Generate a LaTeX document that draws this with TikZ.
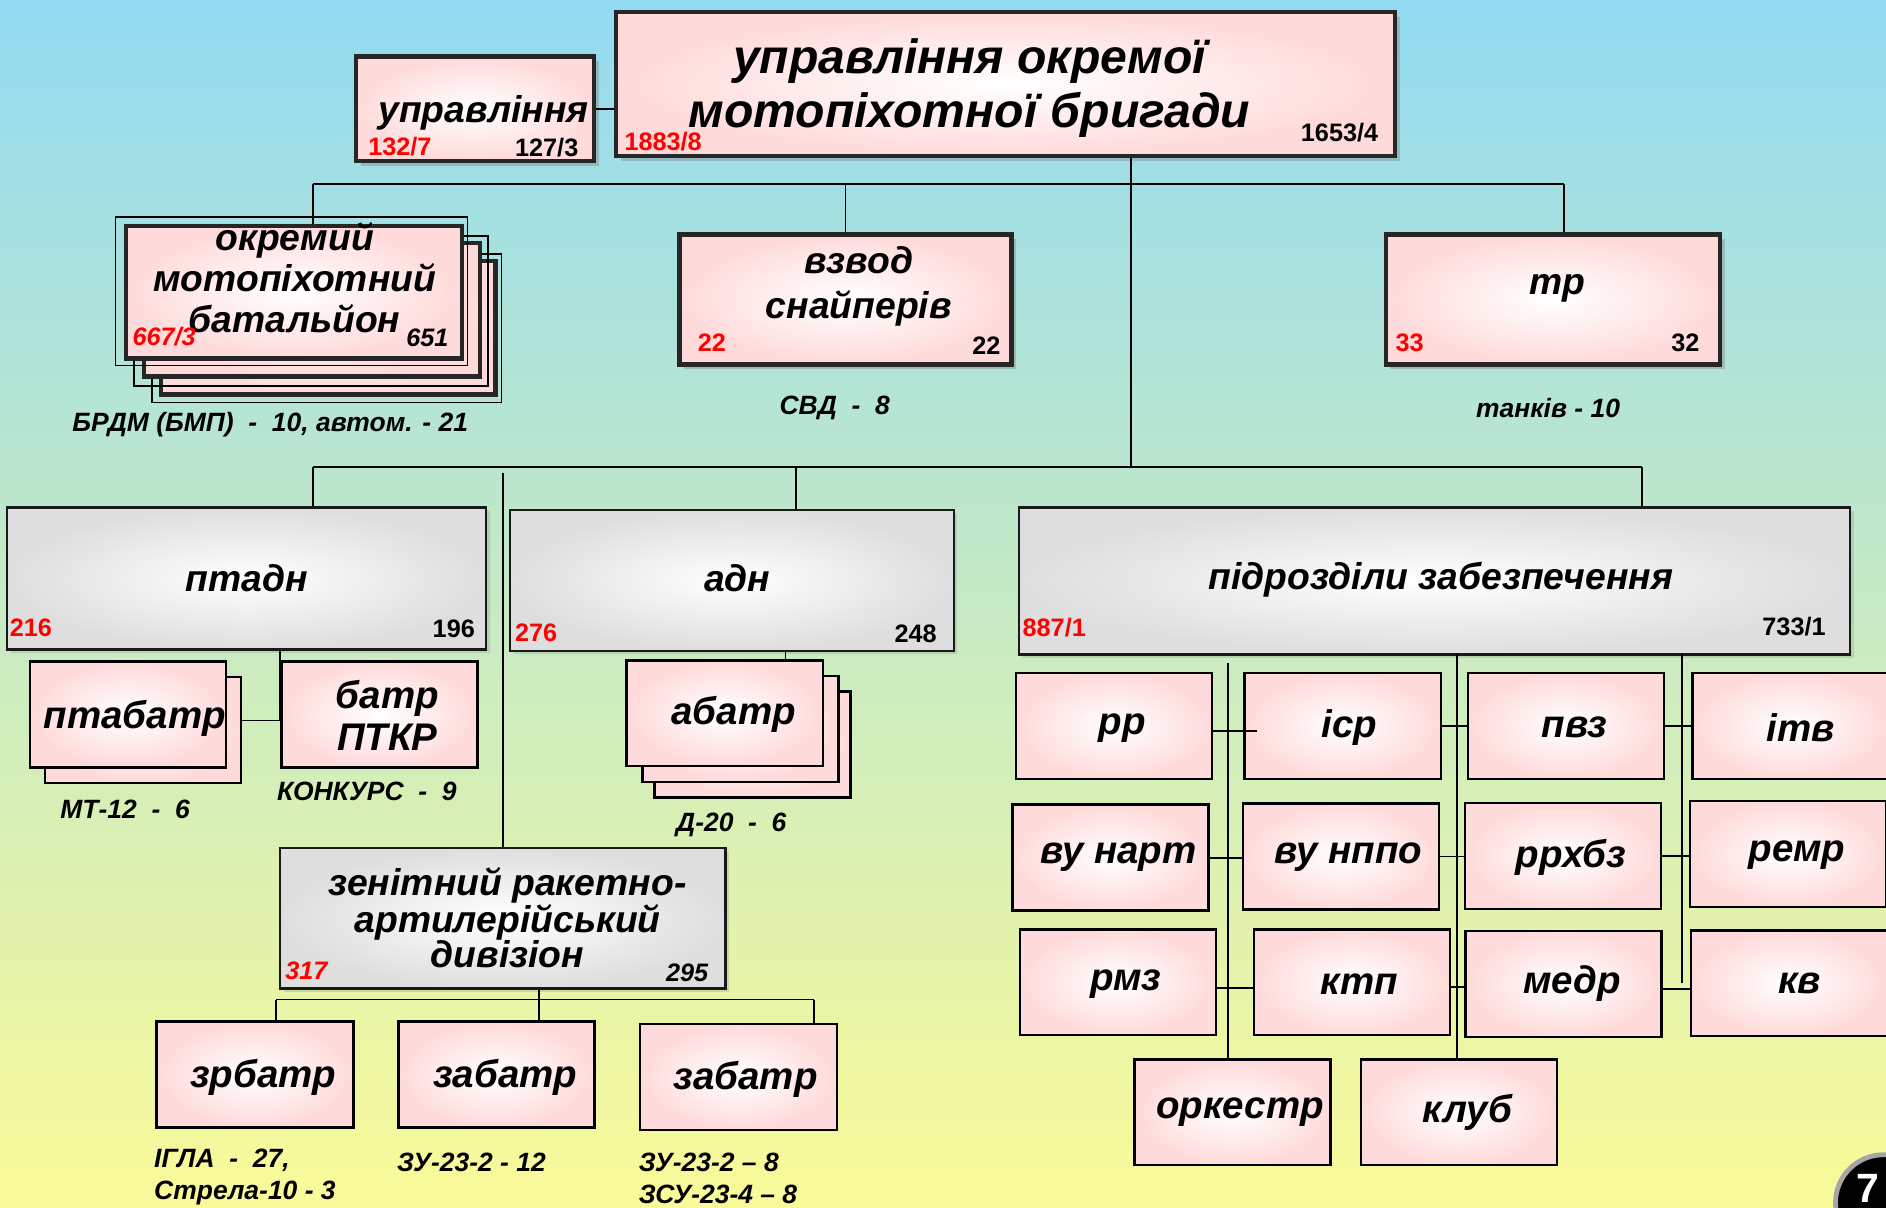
\documentclass[tikz,border=0pt]{standalone}
\usepackage{fontspec}
\setmainfont{Liberation Sans}
\usetikzlibrary{shadows,calc}
\definecolor{bgtop}{RGB}{146,218,242}
\definecolor{bgbot}{RGB}{250,250,152}
\definecolor{pinkE}{RGB}{255,218,218}
\definecolor{grayE}{RGB}{222,222,222}
\begin{document}
\begin{tikzpicture}[x=1pt,y=-1pt,
  bigbox/.style={draw=black!85,line width=3.5pt,shading=radial,inner color=white,outer color=pinkE,inner sep=0pt,
     drop shadow={opacity=0.4,shadow xshift=4pt,shadow yshift=-4pt}},
  stackbox/.style={draw=black!85,line width=3.5pt,shading=radial,inner color=white,outer color=pinkE,inner sep=0pt},
  graybox/.style={draw=black!90,line width=2pt,shading=radial,inner color=white,outer color=grayE,inner sep=0pt,
     drop shadow={opacity=0.25,shadow xshift=3pt,shadow yshift=-3pt}},
  pbox/.style={draw=black,line width=2pt,shading=radial,inner color=white,outer color=pinkE,inner sep=0pt,
     minimum width=163pt,minimum height=88pt},
  conn/.style={draw=black,line width=1.5pt},
  thinl/.style={draw=black,line width=1.2pt},
  ttl/.style={font=\fontsize{40}{45}\selectfont\bfseries\itshape,align=center,inner sep=0pt},
  tbig/.style={font=\fontsize{31}{35}\selectfont\bfseries\itshape,align=center,inner sep=0pt},
  tsm/.style={font=\fontsize{32}{35}\selectfont\bfseries\itshape,align=center,inner sep=0pt},
  nr/.style={font=\fontsize{21}{21}\selectfont\bfseries,text=red,inner sep=0pt},
  nb/.style={font=\fontsize{21}{21}\selectfont\bfseries,text=black,inner sep=0pt},
  nit/.style={font=\fontsize{21}{21}\selectfont\bfseries\itshape},
  lbl/.style={font=\fontsize{22}{27}\selectfont\bfseries\itshape,inner sep=0pt,align=left}]

\useasboundingbox (0,0) rectangle (1568,1004);
\clip (0,0) rectangle (1568,1004);
\shade[top color=bgtop,bottom color=bgbot] (0,0) rectangle (1568,1004);

% ---------- top level ----------
\node[bigbox,minimum width=648pt,minimum height=120pt] (brig) at (836,70) {};
\node[ttl] (brig-t) at (806,73) {управління окремої\\мотопіхотної бригади};
\node[nr,anchor=west] (brig-r) at (519,118) {1883/8};
\node[nb,anchor=east] (brig-b) at (1146,110) {1653/4};

\node[bigbox,minimum width=198pt,minimum height=87pt] (upr) at (395,90.5) {};
\node[tbig] (upr-t) at (402,94) {управління};
\node[nr,anchor=west] (upr-r) at (306,122) {132/7};
\node[nb,anchor=east] (upr-b) at (481,123) {127/3};

% battalion stack
\node[stackbox,minimum width=278pt,minimum height=111pt] (bat3) at (273,272.5) {};
\draw[thinl] ($(bat3.north west)+(-6,-4)$) rectangle ($(bat3.south east)+(3,5)$);
\node[stackbox,minimum width=279pt,minimum height=111pt] (bat2) at (259.5,257.5) {};
\draw[thinl] ($(bat2.north west)+(-7,-4)$) rectangle ($(bat2.south east)+(5,6)$);
\node[stackbox,minimum width=279pt,minimum height=110pt] (bat1) at (244.5,243) {};
\draw[thinl] ($(bat1.north west)+(-7,-6)$) rectangle ($(bat1.south east)+(3,4)$);
\node[font=\fontsize{31}{34}\selectfont\bfseries\itshape,align=center,inner sep=0pt] (bat-t) at (245,231) {окремий\\мотопіхотний\\батальйон};
\node[nr,nit,anchor=west] (bat-r) at (110,280) {667/3};
\node[nb,nit,anchor=east] (bat-b) at (373,281) {651};
\node[lbl,anchor=west] (bat-l) at (60,353) {БРДМ (БМП)\ \ -\ \ 10, автом. - 21};

\node[bigbox,minimum width=276pt,minimum height=108pt] (snip) at (703,249) {};
\node[font=\fontsize{31}{37}\selectfont\bfseries\itshape,align=center,inner sep=0pt] (snip-t) at (714,238) {взвод\\снайперів};
\node[nr,anchor=west] (snip-r) at (580,285) {22};
\node[nb,anchor=east] (snip-b) at (832,287) {22};
\node[lbl] (snip-l) at (694,339) {СВД\ \ -\ \ 8};

\node[bigbox,minimum width=278pt,minimum height=108pt] (tr) at (1291,249) {};
\node[tbig] (tr-t) at (1295,240) {тр};
\node[nr,anchor=west] (tr-r) at (1160,285) {33};
\node[nb,anchor=east] (tr-b) at (1413,285) {32};
\node[lbl] (tr-l) at (1287,339) {танків - 10};

% ---------- second level ----------
\node[graybox,minimum width=398pt,minimum height=118pt] (ptadn) at (205,481) {};
\node[tbig] (ptadn-t) at (205,481) {птадн};
\node[nr,anchor=west] (ptadn-r) at (8,522) {216};
\node[nb,anchor=east] (ptadn-b) at (395,523) {196};

\node[graybox,minimum width=369pt,minimum height=117pt] (adn) at (608.5,482.5) {};
\node[tbig] (adn-t) at (613,481) {адн};
\node[nr,anchor=west] (adn-r) at (428,526) {276};
\node[nb,anchor=east] (adn-b) at (779,527) {248};

\node[graybox,minimum width=691pt,minimum height=122pt] (pidr) at (1192.5,483) {};
\node[tbig] (pidr-t) at (1198,482) {підрозділи забезпечення};
\node[nr,anchor=west] (pidr-r) at (850,522) {887/1};
\node[nb,anchor=east] (pidr-b) at (1518,521) {733/1};

% anti-tank
\node[pbox] (ptab2) at (118.75,607) {};
\node[pbox] (ptab1) at (106.5,594) {};
\node[tsm] (ptab-t) at (112,597) {птабатр};
\node[pbox] (ptkr) at (315.5,594) {};
\node[font=\fontsize{32}{35}\selectfont\bfseries\itshape,align=center,inner sep=0pt] (ptkr-t) at (322,595) {батр\\ПТКР};
\node[lbl] (ptab-l) at (104,673) {МТ-12\ \ -\ \ 6};
\node[lbl] (ptkr-l) at (305,658) {КОНКУРС\ \ -\ \ 9};

% artillery
\node[pbox] (abat3) at (625.5,619) {};
\node[pbox] (abat2) at (615.5,606) {};
\node[pbox] (abat1) at (602.5,593) {};
\node[tsm] (abat-t) at (610,594) {абатр};
\node[lbl] (abat-l) at (608,686) {Д-20\ \ -\ \ 6};

% air defence
\node[graybox,minimum width=370pt,minimum height=117pt] (zrad) at (418,763.3) {};
\node[font=\fontsize{31}{29}\selectfont\bfseries\itshape,align=center,inner sep=0pt] (zrad-t) at (422,763) {зенітний ракетно-\\артилерійський\\дивізіон};
\node[nr,nit,anchor=west] (zrad-r) at (237,807) {317};
\node[nb,nit,anchor=east] (zrad-b) at (589,809) {295};

\node[pbox,minimum width=164pt] (zrb) at (212,893.25) {};
\node[tsm] (zrb-t) at (219,896) {зрбатр};
\node[pbox] (zab1) at (412.85,893.25) {};
\node[tsm] (zab1-t) at (420,896) {забатр};
\node[pbox,minimum width=164pt] (zab2) at (614,895.5) {};
\node[tsm] (zab2-t) at (620,897) {забатр};
\node[lbl,anchor=west] (zrb-l) at (128,978.5) {ІГЛА\ \ -\ \ 27,\\Стрела-10 - 3};
\node[lbl,anchor=west] (zab1-l) at (330,966) {ЗУ-23-2 - 12};
\node[lbl,anchor=west] (zab2-l) at (531,979.5) {ЗУ-23-2 – 8\\ЗСУ-23-4 – 8};

% support units
\node[pbox] (rr) at (926.25,603.65) {};      \node[tsm] (rr-t) at (933,605) {рр};
\node[pbox] (isr) at (1116.3,603.65) {};     \node[tsm] (isr-t) at (1122,605) {іср};
\node[pbox] (pvz) at (1302,603.65) {};       \node[tsm] (pvz-t) at (1309,605) {пвз};
\node[pbox] (itv) at (1488.5,603.65) {};     \node[tsm] (itv-t) at (1497,605) {ітв};
\node[pbox] (vunart) at (923.35,713) {};     \node[tsm] (vunart-t) at (930,713) {ву нарт};
\node[pbox] (vunppo) at (1115,712) {};       \node[tsm] (vunppo-t) at (1121,713) {ву нппо};
\node[pbox] (rrhbz) at (1299.5,711.5) {};    \node[tsm] (rrhbz-t) at (1306,713) {ррхбз};
\node[pbox] (remr) at (1486.5,710) {};       \node[tsm] (remr-t) at (1494,711) {ремр};
\node[pbox] (rmz) at (929.3,816.7) {};       \node[tsm] (rmz-t) at (936,818) {рмз};
\node[pbox] (ktp) at (1124.1,816.7) {};      \node[tsm] (ktp-t) at (1130,818) {ктп};
\node[pbox] (medr) at (1300,818) {};         \node[tsm] (medr-t) at (1307,818) {медр};
\node[pbox] (kv) at (1487.2,817.5) {};       \node[tsm] (kv-t) at (1496,818) {кв};
\node[pbox] (orkestr) at (1024.8,924.8) {};  \node[tsm] (orkestr-t) at (1031,925) {оркестр};
\node[pbox] (klub) at (1213,924.8) {};       \node[tsm] (klub-t) at (1220,925) {клуб};

% ---------- connectors ----------
\draw[conn] (upr.east) -- (upr.east -| brig.west);
\coordinate (b1L) at (260,153);
\coordinate (b1R) at (1300,153);
\coordinate (b2L) at (260,388);
\coordinate (b2R) at (1365,388);
\coordinate (b2M) at (940,388);
\coordinate (jadn) at (662,388);
\coordinate (jz) at (418,393);
\draw[conn] (brig.south -| b2M) -- (b2M);
\draw[conn] (b1L) -- (b1R);
\draw[conn] (b1L) -- (b1L |- bat1.north);
\draw[conn] (snip.north) -- (snip.north |- b1L);
\draw[conn] (b1R) -- (b1R |- tr.north);
\draw[conn] (b2L) -- (b2R);
\draw[conn] (b2L) -- (b2L |- ptadn.north);
\draw[conn] (jadn) -- (jadn |- adn.north);
\draw[conn] (b2R) -- (b2R |- pidr.north);
\draw[conn] (jz) -- (jz |- zrad.north);

\coordinate (jpt) at (233,599);
\draw[conn] (ptadn.south -| jpt) -- (jpt) -- (jpt -| ptab2.east);
\coordinate (xab) at (653,545);
\draw[conn] (adn.south -| xab) -- (abat1.north -| xab);

\coordinate (b3) at (448,831);
\coordinate (b3L) at (229.5,831);
\coordinate (b3R) at (677,831);
\draw[conn] (zrad.south -| b3) -- (b3);
\draw[conn] (b3L) -- (b3R);
\draw[conn] (b3L) -- (b3L |- zrb.north);
\draw[conn] (b3) -- (b3 |- zab1.north);
\draw[conn] (b3R) -- (b3R |- zab2.north);

\coordinate (t1) at (1021,551);
\coordinate (t2) at (1211,544);
\coordinate (t3) at (1398.5,544);
\draw[conn] (t1) -- (t1 |- orkestr.north);
\draw[conn] (t2) -- (t2 |- klub.north);
\draw[conn] (t3) -- (t3 |- kv.west);
\draw[conn] ([yshift=-4pt]rr.east) -- ([xshift=11pt,yshift=-4pt]isr.west);
\draw[conn] (isr.east) -- (pvz.west);
\draw[conn] (pvz.east) -- (itv.west);
\draw[conn] (vunart.east) -- (vunart.east -| vunppo.west);
\draw[conn] (vunppo.east) -- (vunppo.east -| rrhbz.west);
\draw[conn] (rrhbz.east) -- (rrhbz.east -| remr.west);
\draw[conn] ([yshift=-5pt]rmz.east) -- ([yshift=-5pt]rmz.east -| ktp.west);
\draw[conn] ([yshift=-4pt]ktp.east) -- ([yshift=-4pt]ktp.east -| medr.west);
\draw[conn] ([yshift=-4pt]medr.east) -- ([yshift=-4pt]medr.east -| kv.west);

% page badge
\node[circle,fill=black,draw=gray!70,line width=4pt,minimum size=80pt,inner sep=0pt] (badge) at (1566,1000) {};
\node[font=\fontsize{34}{34}\selectfont\bfseries,text=white,anchor=north west,inner sep=0pt] (badge-t) at (1543,976) {7};
\end{tikzpicture}
\end{document}
